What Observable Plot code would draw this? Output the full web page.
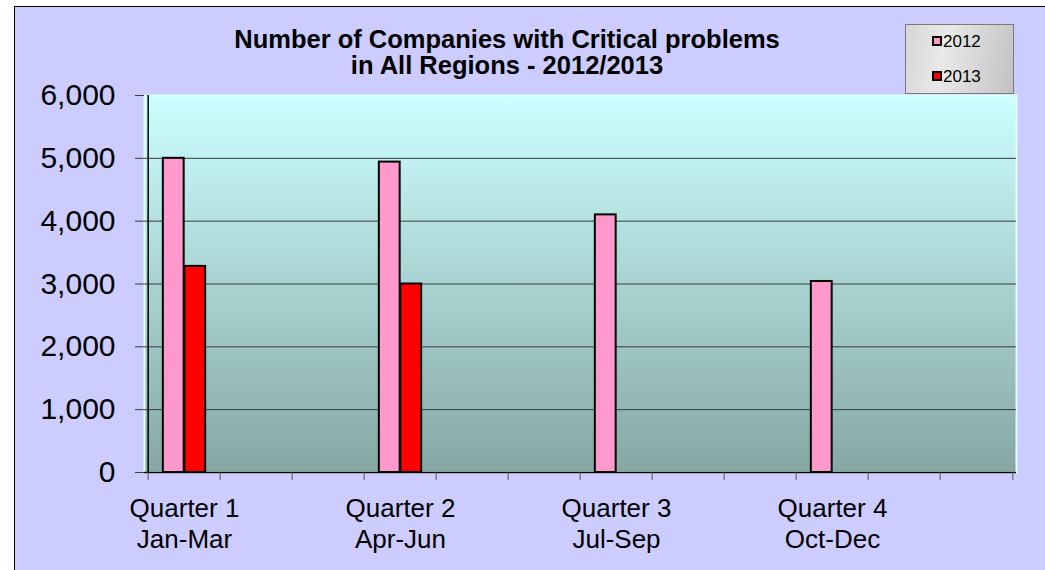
<!DOCTYPE html>
<html>
<head>
<meta charset="utf-8">
<script src="https://cdn.jsdelivr.net/npm/d3@7"></script>
<script src="https://cdn.jsdelivr.net/npm/@observablehq/plot@0.6"></script>
<style>
  html, body { margin: 0; padding: 0; background: white; width: 1045px; height: 570px; overflow: hidden; }
  body { position: relative; font-family: "Liberation Sans", Arial, sans-serif; }
  #panel { position: absolute; left: 14px; top: 6px; width: 1100px; height: 620px; background: #CCCCFF; border: 1px solid #000; }
  #chart { position: absolute; left: 0; top: 0; }
  .tline { position: absolute; left: 207px; width: 600px; height: 26px; overflow: visible; text-align: center; font-weight: bold; font-size: 25.5px; line-height: 26px; color: #000; white-space: nowrap; }
  #legend { position: absolute; left: 905px; top: 24px; width: 107px; height: 68px; border: 1px solid #7a7a7a;
            background: linear-gradient(100deg, #d6d6d6 0%, #e9e9e9 35%, #c2c2c2 100%); }
  .item { position: absolute; left: 26px; font-size: 17px; line-height: 20px; height: 20px; color: #000; }
  .sw { display: inline-block; width: 6px; height: 6px; border: 2px solid #000; margin-right: 1px; vertical-align: 1px; }
</style>
</head>
<body>
<svg width="0" height="0" style="position:absolute">
  <defs>
    <linearGradient id="plotbg" x1="0" y1="0" x2="0" y2="1">
      <stop offset="0" stop-color="#CCFFFF"/>
      <stop offset="1" stop-color="#86A7A4"/>
    </linearGradient>
  </defs>
</svg>
<div id="panel"></div>
<div id="chart"></div>
<div id="title"></div>
<div id="legend"></div>
<script>
// ---- data ----
const months = ["Jan","Feb","Mar","Apr","May","Jun","Jul","Aug","Sep","Oct","Nov","Dec"];
const quarterMonths = ["Jan","Apr","Jul","Oct"];
const quarterLabels = ["Quarter 1\nJan-Mar","Quarter 2\nApr-Jun","Quarter 3\nJul-Sep","Quarter 4\nOct-Dec"];
const seriesNames = ["2012","2013"];
const values2012 = [5000, 4940, 4100, 3040];
const values2013 = [3280, 3000, null, null];
const yTicks = [0, 1000, 2000, 3000, 4000, 5000, 6000];
const gridTicks = [1000, 2000, 3000, 4000, 5000];
const seriesColors = ["#FF99CC", "#FF0000"];
const titleLines = ["Number of Companies with Critical problems", "in All Regions - 2012/2013"];

const quarterData = quarterMonths.map((m, i) => ({
  month: m, label: quarterLabels[i], v2012: values2012[i], v2013: values2013[i]
}));

// ---- layout ----
const W = 1045, H = 570;
const mL = 144, mR = 29, mT = 95, mB = 98;
const step = (W - mL - mR) / months.length;
const barW = 21.5;
const inset = (step - barW) / 2;

const chart = Plot.plot({
  width: W, height: H,
  marginLeft: mL, marginRight: mR, marginTop: mT, marginBottom: mB,
  style: { background: "transparent", overflow: "visible", fontFamily: "'Liberation Sans', Arial, sans-serif", color: "black" },
  x: { type: "band", domain: months, padding: 0, axis: null },
  y: { domain: [0, 6000], axis: null },
  marks: [
    Plot.frame({ fill: "url(#plotbg)", stroke: "#DDFFFF", strokeWidth: 2 }),
    Plot.ruleY(gridTicks, { stroke: "#3a3a3a", strokeWidth: 1 }),
    Plot.axisY({ ticks: yTicks, tickSize: 9, tickPadding: 20, tickFormat: d3.format(","),
                 fontSize: 30, stroke: "#3a3a3a", fill: "black", label: null }),
    Plot.barY(quarterData, { x: "month", y: "v2012", fill: seriesColors[0], stroke: "black", strokeWidth: 2,
                             insetLeft: inset, insetRight: inset, dx: -barW / 2 }),
    Plot.barY(quarterData, { x: "month", y: "v2013", fill: seriesColors[1], stroke: "black", strokeWidth: 2,
                             insetLeft: inset, insetRight: inset, dx: barW / 2 }),
    Plot.ruleY([0], { stroke: "black", strokeWidth: 1.5 }),
    Plot.ruleX([months[0]], { stroke: "black", strokeWidth: 1.5, dx: -step / 2 }),
    Plot.axisX({ ticks: months, tickSize: 8, tickFormat: () => "", dx: -step / 2, stroke: "#555", label: null }),
    Plot.axisX({ ticks: [months[months.length - 1]], tickSize: 8, tickFormat: () => "", dx: step / 2, stroke: "#555", label: null }),
    Plot.text(quarterData, { x: "month", text: "label", frameAnchor: "bottom", lineAnchor: "top",
                             dy: 22.5, fontSize: 26, lineHeight: 1.19, fill: "black" })
  ]
});
document.getElementById("chart").appendChild(chart);

const title = document.getElementById("title");
titleLines.forEach((t, i) => {
  const d = document.createElement("div");
  d.className = "tline";
  d.style.top = (26 + i * 26) + "px";
  d.textContent = t;
  title.appendChild(d);
});

const legend = document.getElementById("legend");
seriesNames.forEach((name, i) => {
  const d = document.createElement("div");
  d.className = "item";
  d.style.top = (7 + i * 35) + "px";
  d.innerHTML = `<span class="sw" style="background:${seriesColors[i]}"></span>${name}`;
  legend.appendChild(d);
});
</script>
</body>
</html>
